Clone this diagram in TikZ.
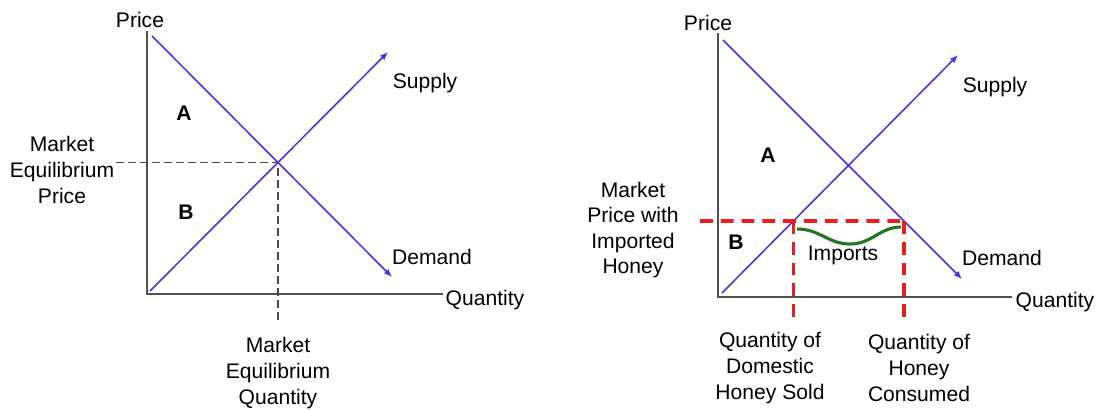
\documentclass[tikz,border=0pt]{standalone}
\usepackage{fontspec}
\setmainfont{Liberation Sans}
\usetikzlibrary{arrows.meta,calc,positioning}
\definecolor{sdblue}{RGB}{85,40,240}
\definecolor{axisgray}{RGB}{80,80,80}
\definecolor{honeyred}{RGB}{235,30,30}
\definecolor{importgreen}{RGB}{30,120,30}

\begin{document}
\begin{tikzpicture}[x=0.025cm,y=-0.025cm,
  every node/.style={font=\fontsize{15}{18.2}\selectfont,align=center,inner sep=1pt},
  axisline/.style={axisgray,line width=1.4pt},
  sdline/.style={sdblue,line width=1.1pt,-{Latex[length=2mm,width=1.6mm]}},
  guide/.style={black!70,line width=0.9pt,dash pattern=on 2mm off 1mm},
  redguide/.style={honeyred,line width=2.6pt,dash pattern=on 3.2mm off 2mm},
  area/.style={font=\fontsize{15}{18}\selectfont\bfseries}]
\useasboundingbox (0,0) rectangle (1100,410);
% left graph: market equilibrium
\coordinate (ytop1) at (147,31);
\coordinate (o1) at (147,294);
\coordinate (xend1) at (443,294);
\draw[axisline] (ytop1) -- (o1) -- (xend1);
\coordinate (d1s) at (152,36); \coordinate (d1e) at (392,277);
\coordinate (s1s) at (150,291); \coordinate (s1e) at (388,52);
\draw[sdline] (d1s) -- (d1e);
\draw[sdline] (s1s) -- (s1e);
\coordinate (eq1) at (intersection of d1s--d1e and s1s--s1e);
\node (price1) at (140,20) {Price};
\node (supply1) at (425,83) {Supply};
\node (demand1) at (432,257) {Demand};
\node (qty1) at (485,300) {Quantity};
\node[area] (a1) at (184,113) {A};
\node[area] (b1) at (186,212) {B};
\node (mp1) at (62,170) {Market\\Equilibrium\\Price};
\node (mq1) at (278,373) {Market\\Equilibrium\\Quantity};
\coordinate (q1) at ($(eq1 |- o1)+(0,26)$);
\draw[guide] (mp1.east |- eq1) -- (eq1) -- (q1);
% right graph: imported honey
\coordinate (ytop2) at (718,33);
\coordinate (o2) at (718,297);
\coordinate (xend2) at (1012,297);
\draw[axisline] (ytop2) -- (o2) -- (xend2);
\coordinate (d2s) at (723,40); \coordinate (d2e) at (962,279);
\coordinate (s2s) at (722,293); \coordinate (s2e) at (958,55);
\draw[sdline] (d2s) -- (d2e);
\draw[sdline] (s2s) -- (s2e);
\node (price2) at (708,23) {Price};
\node (supply2) at (995,87) {Supply};
\node (demand2) at (1002,258) {Demand};
\node (qty2) at (1055,302) {Quantity};
\node[area] (a2) at (768,155) {A};
\node[area] (b2) at (736,242) {B};
\node (mpw) at (633,230) {Market\\Price with\\Imported\\Honey};
\node (dq) at (770,368) {Quantity of\\Domestic\\Honey Sold};
\node (cq) at (919,368) {Quantity of\\Honey\\Consumed};
\coordinate (pw) at (700,221); \coordinate (pwr) at (1000,221);
\coordinate (dom) at (intersection of s2s--s2e and pw--pwr);
\coordinate (con) at (intersection of d2s--d2e and pw--pwr);
\draw[redguide] (pw) -- (con);
\draw[redguide] (dom) -- ($(dom |- o2)+(0,21)$);
\draw[redguide] (con) -- ($(con |- o2)+(0,21)$);
\coordinate (imp1) at (797,229); \coordinate (imp2) at (901,227);
\draw[importgreen,line width=2.2pt] (imp1) .. controls (820,229) and (828,244) .. (850,244)
  .. controls (872,244) and (880,227) .. (imp2);
\node (imports) at (843,255) {Imports};
\end{tikzpicture}
\end{document}
